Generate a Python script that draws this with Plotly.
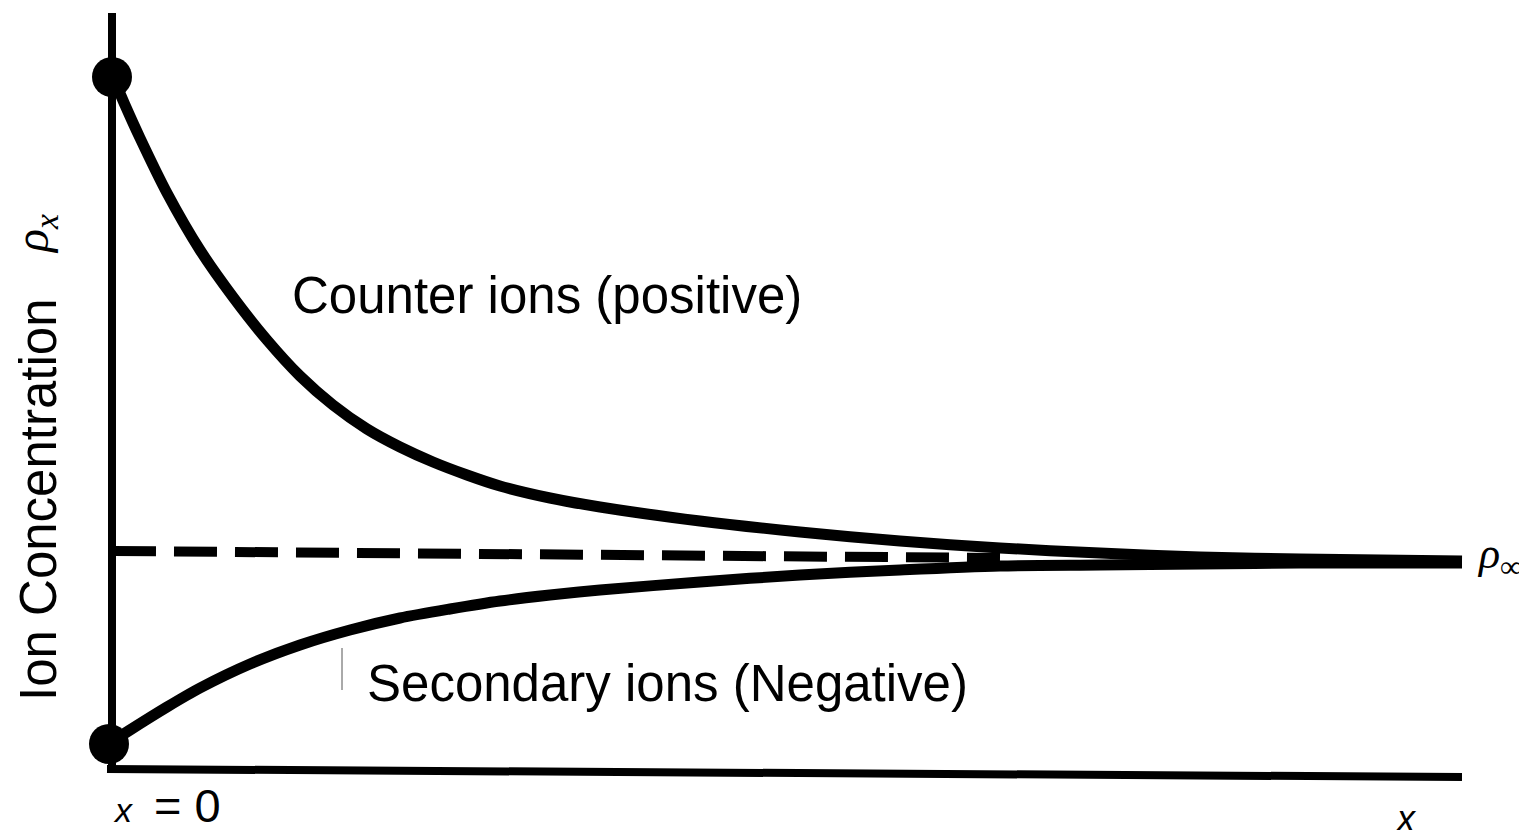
import plotly.graph_objects as go

# Distance from surface (x) and ion concentration (arbitrary units)
counter_x = [0.01, 0.13, 0.28, 0.55, 0.88, 1.21, 1.55, 1.88, 2.21, 2.55, 2.88, 3.21, 3.55,
             3.88, 4.38, 4.88, 5.88, 6.88, 7.88, 8.88, 9.88, 10.88, 11.88, 13.50]
counter_y = [6.93, 6.65, 6.32, 5.77, 5.20, 4.73, 4.30, 3.94, 3.65, 3.41, 3.23, 3.08, 2.95,
             2.84, 2.72, 2.63, 2.49, 2.38, 2.29, 2.22, 2.17, 2.13, 2.11, 2.09]

secondary_x = [-0.02, 0.18, 0.55, 0.88, 1.38, 1.88, 2.38, 2.88, 3.38, 3.88, 4.38, 4.88, 5.88,
               6.88, 7.88, 8.88, 9.88, 10.88, 11.88, 13.50]
secondary_y = [0.27, 0.40, 0.63, 0.82, 1.06, 1.25, 1.40, 1.52, 1.61, 1.69, 1.75, 1.80, 1.88,
               1.95, 2.00, 2.04, 2.05, 2.06, 2.07, 2.07]

bulk_x = [0.01, 8.88]
bulk_y = [2.19, 2.12]

surface_x = [0.0, -0.03]
surface_y = [6.93, 0.26]

axis_v_x = [0.0, 0.0]
axis_v_y = [0.0, 7.57]
axis_h_x = [-0.05, 13.50]
axis_h_y = [0.01, -0.07]

tick_x = [2.30, 2.30]
tick_y = [1.22, 0.80]

SANS = "Arial, Liberation Sans, sans-serif"
SERIF = "Liberation Serif, DejaVu Serif, serif"

fig = go.Figure()
fig.add_trace(go.Scatter(x=axis_v_x, y=axis_v_y, mode="lines",
                         line=dict(color="black", width=8), hoverinfo="skip"))
fig.add_trace(go.Scatter(x=axis_h_x, y=axis_h_y, mode="lines",
                         line=dict(color="black", width=8), hoverinfo="skip"))
fig.add_trace(go.Scatter(x=bulk_x, y=bulk_y, mode="lines",
                         line=dict(color="black", width=10, dash="43px,18px"), hoverinfo="skip"))
fig.add_trace(go.Scatter(x=counter_x, y=counter_y, mode="lines", line_shape="spline",
                         line=dict(color="black", width=11, smoothing=0.8), hoverinfo="skip"))
fig.add_trace(go.Scatter(x=secondary_x, y=secondary_y, mode="lines", line_shape="spline",
                         line=dict(color="black", width=11, smoothing=0.8), hoverinfo="skip"))
fig.add_trace(go.Scatter(x=surface_x, y=surface_y, mode="markers",
                         marker=dict(color="black", size=40, line=dict(width=0)), hoverinfo="skip"))
fig.add_trace(go.Scatter(x=tick_x, y=tick_y, mode="lines",
                         line=dict(color="#555555", width=1), hoverinfo="skip"))

annos = [
    dict(x=1.78, y=4.75, text="Counter ions (positive)", xanchor="left", yanchor="middle",
         font=dict(family=SANS, size=51, color="black")),
    dict(x=2.53, y=0.87, text="Secondary ions (Negative)", xanchor="left", yanchor="middle",
         font=dict(family=SANS, size=51, color="black")),
    dict(x=-0.74, y=2.70, text="Ion Concentration", textangle=-90, xanchor="center", yanchor="middle",
         font=dict(family=SANS, size=51, color="black")),
    dict(x=-0.77, y=5.36, text="<i>ρ<sub>x</sub></i>", textangle=-90, xanchor="center", yanchor="middle",
         font=dict(family=SERIF, size=48, color="black")),
    dict(x=13.63, y=2.14, text="<i>ρ<sub>∞</sub></i>", xanchor="left", yanchor="middle",
         font=dict(family=SERIF, size=44, color="black")),
    dict(x=0.11, y=-0.40, text="<i>x</i>", xanchor="center", yanchor="middle",
         font=dict(family=SANS, size=34, color="black")),
    dict(x=0.40, y=-0.35, text="= 0", xanchor="left", yanchor="middle",
         font=dict(family=SANS, size=47, color="black")),
    dict(x=12.94, y=-0.48, text="<i>x</i>", xanchor="center", yanchor="middle",
         font=dict(family=SANS, size=36, color="black")),
]
for a in annos:
    a["showarrow"] = False
    a["xref"] = "x"
    a["yref"] = "y"
fig.update_layout(annotations=annos)

fig.update_layout(
    width=1519, height=830,
    margin=dict(l=0, r=0, t=0, b=0),
    paper_bgcolor="white", plot_bgcolor="white",
    showlegend=False,
    xaxis=dict(range=[-1.12, 14.07], visible=False, fixedrange=True),
    yaxis=dict(range=[-0.6, 7.7], visible=False, fixedrange=True),
)

fig.write_html("out.html", config={"displayModeBar": False},
               post_script="document.body.style.margin='0';document.body.style.overflow='hidden';")
